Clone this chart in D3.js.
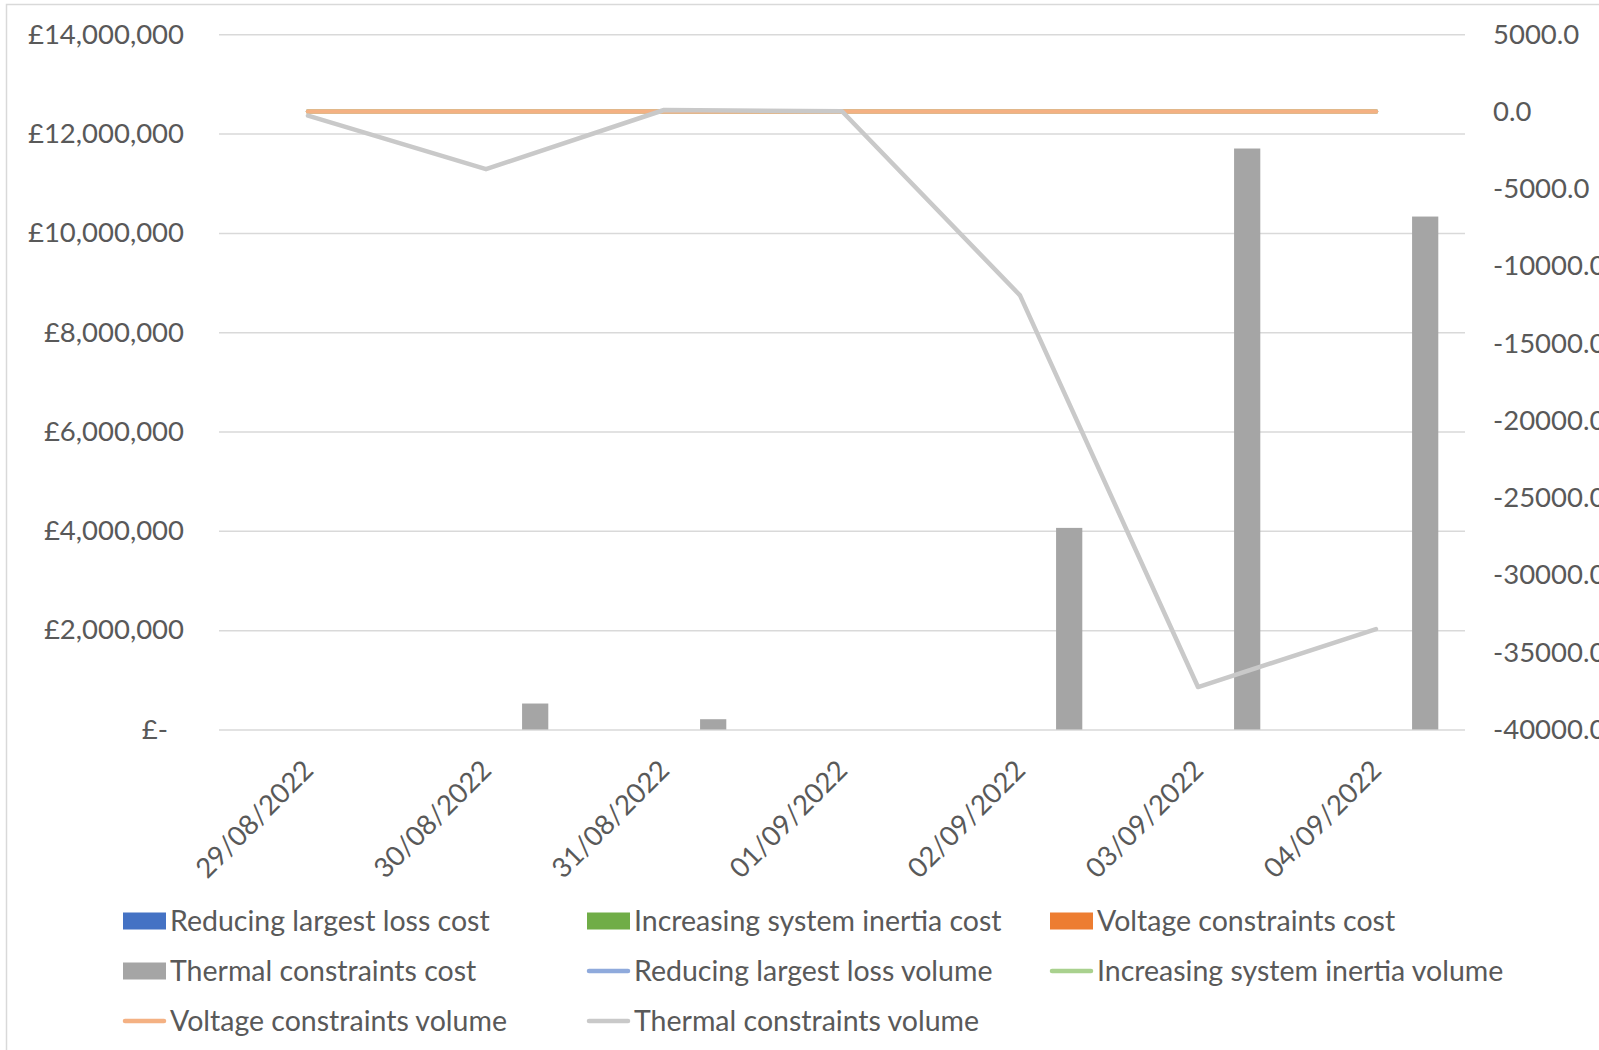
<!DOCTYPE html>
<html>
<head>
<meta charset="utf-8">
<script src="https://cdn.jsdelivr.net/npm/d3@7"></script>
<style>
  body { margin: 0; background: #fff; }
  text { font-family: Lato, "Open Sans", sans-serif; fill: #595959; }
</style>
</head>
<body>
<svg id="chart" width="1599" height="1050"></svg>
<script>
// Daily balancing constraint costs (bars, left axis) and volumes (lines, right axis)
const dates = ["29/08/2022", "30/08/2022", "31/08/2022", "01/09/2022", "02/09/2022", "03/09/2022", "04/09/2022"];

const reducingLossCost  = [0, 0, 0, 0, 0, 0, 0];
const inertiaCost       = [0, 0, 0, 0, 0, 0, 0];
const voltageCost       = [0, 0, 0, 0, 0, 0, 0];
const thermalCost       = [0, 523000, 207000, 0, 4060000, 11700000, 10330000];

const reducingLossVolume = [0, 0, 0, 0, 0, 0, 0];
const inertiaVolume      = [0, 0, 0, 0, 0, 0, 0];
const voltageVolume      = [0, 0, 0, 0, 0, 0, 0];
const thermalVolume      = [-270, -3730, 100, 20, -11900, -37250, -33500];

const costTicks   = [0, 2000000, 4000000, 6000000, 8000000, 10000000, 12000000, 14000000];
const volumeTicks = [-40000, -35000, -30000, -25000, -20000, -15000, -10000, -5000, 0, 5000];

const costSeries = [
  { name: "Reducing largest loss cost",     values: reducingLossCost, color: "#4472c4" },
  { name: "Increasing system inertia cost", values: inertiaCost,      color: "#70ad47" },
  { name: "Voltage constraints cost",       values: voltageCost,      color: "#ed7d31" },
  { name: "Thermal constraints cost",       values: thermalCost,      color: "#a5a5a5" }
];
const volumeSeries = [
  { name: "Reducing largest loss volume",     values: reducingLossVolume, color: "#8faadc" },
  { name: "Increasing system inertia volume", values: inertiaVolume,      color: "#a9d18e" },
  { name: "Voltage constraints volume",       values: voltageVolume,      color: "#f4b183" },
  { name: "Thermal constraints volume",       values: thermalVolume,      color: "#c9c9c9" }
];

const svg = d3.select("#chart");
const plot = { left: 219, right: 1465, top: 34.3, bottom: 729.5 };
const axisFont = 27.5;
const legendFont = 28.5;

const locale = d3.formatLocale({ decimal: ".", thousands: ",", grouping: [3], currency: ["£", ""], minus: "-" });
const fmtCost = v => v === 0 ? "£-" : locale.format("$,.0f")(v);
const fmtVol = locale.format(".1f");

// chart frame
svg.append("rect")
  .attr("x", 6.5).attr("y", 4.5)
  .attr("width", 1700).attr("height", 1100)
  .attr("fill", "none").attr("stroke", "#d9d9d9").attr("stroke-width", 1.5);

const x0 = d3.scaleBand().domain(dates).range([plot.left, plot.right])
  .paddingInner(0.3).paddingOuter(0.15);
const x1 = d3.scaleBand().domain(costSeries.map(s => s.name)).range([0, x0.bandwidth()])
  .paddingInner(0.2);
const yCost = d3.scaleLinear().domain([0, 14000000]).range([plot.bottom, plot.top]);
const yVol = d3.scaleLinear().domain([-40000, 5000]).range([plot.bottom, plot.top]);

// gridlines + left axis labels
const leftAxis = d3.axisLeft(yCost).tickValues(costTicks).tickFormat(fmtCost)
  .tickSize(-(plot.right - plot.left)).tickPadding(35);
const gL = svg.append("g").attr("transform", `translate(${plot.left},0)`).call(leftAxis);
gL.select(".domain").remove();
gL.selectAll(".tick line").attr("stroke", "#d9d9d9").attr("stroke-width", 1.5);
gL.selectAll(".tick text")
  .attr("font-size", axisFont).style("font-family", "Lato, 'Open Sans', sans-serif")
  .attr("fill", "#595959")
  .attr("dx", d => d === 0 ? -16 : 0);

// right axis labels
const rightAxis = d3.axisRight(yVol).tickValues(volumeTicks).tickFormat(fmtVol)
  .tickSize(0).tickPadding(28);
const gR = svg.append("g").attr("transform", `translate(${plot.right},0)`).call(rightAxis);
gR.select(".domain").remove();
gR.selectAll(".tick text")
  .attr("font-size", axisFont).style("font-family", "Lato, 'Open Sans', sans-serif")
  .attr("fill", "#595959");

// category labels, rotated
const xAxis = svg.append("g");
xAxis.selectAll("text").data(dates).join("text")
  .attr("transform", d => `translate(${x0(d) + x0.bandwidth() / 2 + 7},772) rotate(-45)`)
  .attr("text-anchor", "end")
  .attr("font-size", axisFont)
  .text(d => d);

// cost bars
const barG = svg.append("g");
costSeries.forEach(s => {
  barG.append("g").selectAll("rect").data(s.values.map((v, i) => ({ v, d: dates[i] })))
    .join("rect")
    .attr("x", p => x0(p.d) + x1(s.name))
    .attr("width", x1.bandwidth())
    .attr("y", p => yCost(p.v))
    .attr("height", p => yCost(0) - yCost(p.v))
    .attr("fill", s.color);
});

// volume lines
const line = d3.line()
  .x((v, i) => x0(dates[i]) + x0.bandwidth() / 2)
  .y(v => yVol(v));
volumeSeries.forEach(s => {
  svg.append("path")
    .attr("d", line(s.values))
    .attr("fill", "none")
    .attr("stroke", s.color)
    .attr("stroke-width", 4.5)
    .attr("stroke-linejoin", "round")
    .attr("stroke-linecap", "round");
});

// legend
const legendItems = [
  { ...costSeries[0], kind: "rect" }, { ...costSeries[1], kind: "rect" }, { ...costSeries[2], kind: "rect" },
  { ...costSeries[3], kind: "rect" }, { ...volumeSeries[0], kind: "line" }, { ...volumeSeries[1], kind: "line" },
  { ...volumeSeries[2], kind: "line" }, { ...volumeSeries[3], kind: "line" }
];
const legendCols = [123, 587, 1050];
const legendRows = [921, 971, 1021];
const lg = svg.append("g");
legendItems.forEach((item, i) => {
  const lx = legendCols[i % 3], ly = legendRows[Math.floor(i / 3)];
  const g = lg.append("g").attr("transform", `translate(${lx},${ly})`);
  if (item.kind === "rect") {
    g.append("rect").attr("x", 0).attr("y", -8.5).attr("width", 43).attr("height", 17).attr("fill", item.color);
  } else {
    g.append("line").attr("x1", 2).attr("x2", 41).attr("y1", 0).attr("y2", 0)
      .attr("stroke", item.color).attr("stroke-width", 4.5).attr("stroke-linecap", "round");
  }
  g.append("text").attr("x", 47).attr("y", 0).attr("dy", "0.35em")
    .attr("font-size", legendFont).text(item.name);
});
</script>
</body>
</html>
